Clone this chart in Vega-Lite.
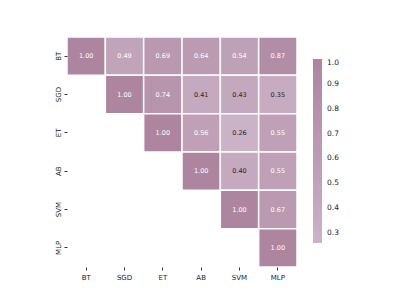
{
  "$schema": "https://vega.github.io/schema/vega-lite/v6.json",
  "width": 230,
  "height": 230,
  "autosize": "none",
  "padding": {"left": 67, "top": 37, "right": 103, "bottom": 33},
  "background": "white",
  "config": {"view": {"stroke": null}, "font": "DejaVu Sans"},
  "data": {"values": [
    {"row": "BT", "col": "BT", "v": 1.00},
    {"row": "BT", "col": "SGD", "v": 0.49},
    {"row": "BT", "col": "ET", "v": 0.69},
    {"row": "BT", "col": "AB", "v": 0.64},
    {"row": "BT", "col": "SVM", "v": 0.54},
    {"row": "BT", "col": "MLP", "v": 0.87},
    {"row": "SGD", "col": "SGD", "v": 1.00},
    {"row": "SGD", "col": "ET", "v": 0.74},
    {"row": "SGD", "col": "AB", "v": 0.41},
    {"row": "SGD", "col": "SVM", "v": 0.43},
    {"row": "SGD", "col": "MLP", "v": 0.35},
    {"row": "ET", "col": "ET", "v": 1.00},
    {"row": "ET", "col": "AB", "v": 0.56},
    {"row": "ET", "col": "SVM", "v": 0.26},
    {"row": "ET", "col": "MLP", "v": 0.55},
    {"row": "AB", "col": "AB", "v": 1.00},
    {"row": "AB", "col": "SVM", "v": 0.40},
    {"row": "AB", "col": "MLP", "v": 0.55},
    {"row": "SVM", "col": "SVM", "v": 1.00},
    {"row": "SVM", "col": "MLP", "v": 0.67},
    {"row": "MLP", "col": "MLP", "v": 1.00}
  ]},
  "encoding": {
    "x": {"field": "col", "type": "nominal", "sort": ["BT", "SGD", "ET", "AB", "SVM", "MLP"],
      "scale": {"domain": ["BT", "SGD", "ET", "AB", "SVM", "MLP"], "paddingInner": 0, "paddingOuter": 0},
      "axis": {"title": null, "orient": "bottom", "labelAngle": 0, "domain": false, "tickSize": 3, "tickColor": "#333", "labelFontSize": 7, "labelColor": "#222", "labelPadding": 3}},
    "y": {"field": "row", "type": "nominal",
      "scale": {"domain": ["BT", "SGD", "ET", "AB", "SVM", "MLP"], "paddingInner": 0, "paddingOuter": 0},
      "axis": {"title": null, "domain": false, "tickSize": 3, "tickColor": "#333", "labelFontSize": 7, "labelColor": "#222", "labelAngle": 270, "labelAlign": "center", "labelBaseline": "bottom", "labelPadding": 3}}
  },
  "layer": [
    {
      "mark": {"type": "rect", "stroke": "white", "strokeWidth": 1.5},
      "encoding": {
        "color": {"field": "v", "type": "quantitative",
          "scale": {"domain": [0.26, 1.0], "range": ["#cbb2c6", "#ad859f"]},
          "legend": {"title": null, "orient": "none", "legendX": 246, "legendY": 22, "gradientLength": 184, "gradientThickness": 9, "values": [0.3, 0.4, 0.5, 0.6, 0.7, 0.8, 0.9, 1.0], "format": ".1f", "labelFontSize": 7.5, "labelColor": "#222", "gradientStrokeWidth": 0, "labelOffset": 5, "labelBaseline": "middle"}}
      }
    },
    {
      "mark": {"type": "text", "fontSize": 6.5},
      "encoding": {
        "text": {"field": "v", "type": "quantitative", "format": ".2f"},
        "color": {"condition": {"test": "datum.v > 0.45", "value": "white"}, "value": "#262626"}
      }
    }
  ]
}
